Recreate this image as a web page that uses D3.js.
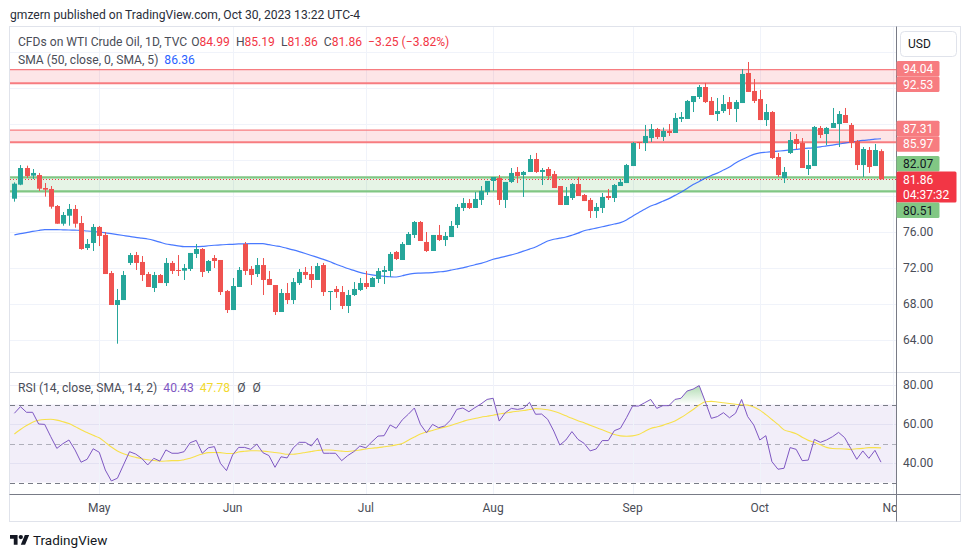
<!DOCTYPE html>
<html><head><meta charset="utf-8">
<script src="https://cdn.jsdelivr.net/npm/d3@7"></script>
<style>
html,body{margin:0;padding:0;background:#fff;}
svg{display:block;font-family:Roboto,"Noto Sans",sans-serif;}
</style></head><body>
<svg id="c" width="970" height="557"></svg>
<script>
// ---------------- DATA ----------------
const opens = [79.70,81.26,83.11,82.26,82.33,80.89,80.78,78.89,76.92,77.81,
78.56,77.00,74.22,74.78,76.56,75.67,71.44,67.89,68.44,72.56,
73.44,72.67,71.33,69.78,71.22,70.33,72.56,71.78,71.70,71.89,
73.56,74.11,71.67,73.11,72.89,69.44,67.33,69.89,74.67,71.89,
71.33,72.33,70.78,70.11,67.11,69.22,68.44,70.33,71.56,71.33,
70.67,72.33,69.33,69.67,69.33,67.78,69.00,69.56,70.33,69.89,
70.78,71.56,71.67,73.78,72.89,74.56,75.67,77.11,74.89,73.89,
75.67,75.11,75.44,76.78,78.67,79.22,78.67,79.56,80.44,81.67,
82.00,79.56,81.56,82.67,82.33,82.67,84.11,82.67,83.00,82.44,
81.11,79.00,79.78,81.33,80.11,79.56,78.33,78.67,80.00,79.78,
81.11,81.44,83.33,86.00,85.89,86.44,87.44,86.56,87.22,87.00,
88.56,88.56,90.44,91.00,92.11,90.56,89.11,89.44,90.44,89.67,
90.33,93.67,91.67,90.78,88.44,89.33,84.33,82.00,84.78,86.33,
85.89,83.00,83.33,87.56,86.89,87.56,88.00,89.00,87.89,86.11,
83.44,85.11,83.33,84.99];
const highs = [81.52,83.44,83.37,83.00,82.56,81.44,81.11,79.00,78.22,79.11,
79.00,77.78,75.22,76.89,76.67,76.00,71.67,69.67,71.67,73.67,
73.78,73.33,71.56,71.56,71.33,73.11,72.78,73.44,72.44,73.67,
74.67,74.22,72.89,73.44,72.89,69.56,70.89,72.11,74.89,72.22,
73.11,73.11,71.67,70.11,69.67,70.33,70.89,71.89,72.11,72.22,
72.56,72.56,69.44,70.00,70.00,69.56,70.44,70.89,71.67,71.00,
72.00,72.22,73.78,73.89,74.89,76.00,77.22,77.22,76.00,75.67,
76.78,76.00,77.22,79.11,79.78,79.67,80.44,81.11,81.67,82.11,
82.33,81.56,83.11,83.22,82.78,84.56,84.78,83.11,83.22,82.78,
81.11,81.00,81.44,82.11,80.22,79.78,79.22,80.33,80.78,81.33,
81.89,83.56,86.00,86.00,87.89,88.00,87.56,87.60,88.00,89.22,
89.33,90.67,91.11,92.33,92.56,91.00,90.89,91.22,91.00,90.67,
94.11,94.89,93.00,91.78,90.22,89.44,84.78,83.22,87.11,86.89,
86.44,85.11,87.78,87.78,87.67,89.78,89.44,89.78,88.11,86.22,
85.44,85.44,85.78,85.19];
const lows = [79.37,81.20,82.00,81.89,80.56,79.93,78.59,76.92,76.70,76.70,
76.48,74.03,74.00,73.89,74.44,71.33,67.89,63.59,68.44,72.33,
71.78,70.56,69.89,69.33,70.33,70.00,71.33,71.11,70.67,71.67,
73.11,71.00,71.44,72.00,69.00,67.00,67.33,69.89,71.22,70.11,
71.00,69.00,70.11,66.78,67.11,68.00,68.00,70.11,70.78,69.78,
70.67,68.89,67.33,68.67,67.44,67.00,68.89,69.44,69.67,69.89,
70.33,70.22,71.00,72.89,72.89,74.56,75.33,75.00,73.78,73.89,
75.00,74.44,75.44,76.44,78.33,78.56,78.67,79.00,80.11,80.56,
79.00,78.67,81.44,81.44,79.89,82.67,82.56,81.22,81.78,80.89,
79.00,79.00,79.56,80.00,79.44,77.56,77.56,78.11,79.56,79.33,
81.11,81.44,83.33,85.22,85.00,86.00,86.33,86.11,86.67,87.00,
88.22,88.56,89.33,90.78,90.33,89.00,88.33,89.22,89.00,88.22,
90.33,91.56,90.33,88.44,87.78,84.11,82.11,81.44,84.67,85.22,
83.11,82.33,83.33,86.44,85.67,87.56,85.44,88.11,85.33,82.89,
82.11,82.56,83.33,81.86];
const closes = [81.37,83.11,82.22,82.56,80.81,80.70,78.81,76.92,77.89,78.56,
76.92,74.11,74.67,76.56,75.56,71.33,67.89,68.44,71.22,73.44,
72.56,71.22,69.89,71.22,70.33,72.56,71.67,71.70,72.00,73.67,
74.11,71.56,72.78,72.78,69.33,67.33,70.00,71.78,71.67,71.22,
72.33,70.67,70.11,67.11,69.22,68.44,70.44,71.56,71.22,70.67,
72.22,69.33,69.44,69.33,67.78,69.00,69.67,70.33,69.89,70.89,
71.67,71.78,73.56,73.00,74.67,75.78,77.11,75.00,73.89,75.67,
75.11,75.56,76.67,78.78,79.22,78.67,79.67,80.56,81.67,82.11,
79.56,81.56,82.56,82.22,82.67,84.11,82.67,82.89,82.22,80.89,
79.00,80.00,81.33,80.00,79.44,78.33,78.78,79.89,79.78,81.22,
81.56,83.44,85.89,85.89,86.67,87.44,86.56,87.22,87.00,88.67,
88.78,90.56,91.11,92.11,90.44,89.00,89.44,90.22,89.67,90.44,
93.56,91.56,90.56,88.44,89.33,84.22,82.33,82.67,86.22,85.78,
83.11,83.44,87.67,86.78,87.56,88.11,89.11,88.11,85.89,83.44,
85.22,83.22,85.11,81.86];
const sma50 = [75.69,75.81,75.93,76.06,76.17,76.26,76.26,76.26,76.24,76.22,
76.20,76.18,76.11,76.06,76.00,75.91,75.81,75.71,75.61,75.51,
75.40,75.31,75.22,75.07,74.87,74.67,74.56,74.46,74.37,74.37,
74.37,74.40,74.47,74.53,74.58,74.61,74.63,74.67,74.69,74.70,
74.70,74.70,74.59,74.47,74.36,74.18,74.01,73.82,73.61,73.39,
73.18,72.96,72.72,72.44,72.19,71.94,71.73,71.52,71.36,71.24,
71.14,71.08,71.03,71.00,71.14,71.30,71.41,71.43,71.46,71.49,
71.56,71.63,71.76,71.89,72.02,72.19,72.36,72.51,72.72,72.97,
73.12,73.29,73.46,73.64,73.87,74.10,74.34,74.67,75.00,75.19,
75.31,75.44,75.64,75.87,76.14,76.29,76.43,76.58,76.73,76.89,
77.04,77.33,77.76,78.14,78.53,78.89,79.13,79.42,79.71,80.07,
80.42,80.83,81.27,81.62,81.97,82.28,82.54,82.88,83.23,83.66,
84.02,84.34,84.63,84.79,84.86,84.92,84.98,85.04,85.11,85.18,
85.26,85.31,85.38,85.46,85.56,85.66,85.77,85.88,85.98,86.08,
86.17,86.24,86.31,86.36];
const rsi = [65.5,68.9,66.0,66.0,60.0,59.8,53.5,47.5,49.9,51.8,
46.7,40.4,41.9,47.3,45.5,36.4,30.8,32.2,39.0,45.8,
44.6,42.4,39.0,42.4,41.0,46.7,45.0,45.0,45.8,50.4,
51.6,45.0,47.8,48.4,39.8,36.1,44.1,48.0,48.0,47.0,
49.7,45.3,43.8,37.8,43.2,42.6,47.7,50.6,50.6,48.7,
52.7,45.0,45.0,45.0,41.2,43.8,45.8,48.7,47.8,50.9,
53.8,54.0,59.5,57.8,62.1,65.0,68.2,59.8,55.5,59.8,
58.1,59.0,62.1,67.5,68.2,66.3,68.4,70.3,72.6,73.2,
61.5,65.8,68.0,67.5,68.0,71.1,65.0,65.1,62.4,56.4,
49.2,51.8,56.1,52.1,50.1,46.2,47.2,51.5,51.5,56.6,
57.8,63.2,69.2,69.2,70.9,72.6,68.0,69.4,69.4,72.6,
73.2,76.9,77.9,79.7,71.5,62.9,63.8,65.8,63.2,65.5,
72.6,63.8,59.5,51.8,54.0,40.7,36.8,37.3,47.9,47.0,
41.2,41.5,52.1,50.6,51.8,53.5,55.7,53.0,47.5,41.9,
46.2,42.4,46.5,40.43];
const rsiMa = [54.9,57.2,59.2,60.9,61.9,62.3,62.4,62.0,61.2,60.2,
58.7,57.0,55.6,54.2,52.9,50.6,48.2,46.2,44.7,43.7,
42.9,42.2,41.7,41.3,40.9,41.0,41.2,41.2,41.7,42.4,
43.6,44.6,45.3,45.4,45.3,44.9,44.9,45.6,46.0,46.3,
46.3,46.1,45.8,45.4,45.0,44.5,44.5,44.9,45.4,45.9,
46.4,46.7,46.7,46.4,46.1,45.9,46.2,46.7,47.2,47.6,
47.9,48.3,48.7,49.3,50.0,51.7,53.3,54.9,55.9,56.7,
57.6,58.4,59.2,60.3,61.3,62.2,62.8,63.5,64.0,64.5,
65.1,65.6,66.1,66.5,66.9,67.4,67.9,67.7,67.3,66.5,
65.5,64.2,62.9,61.7,60.6,59.4,58.2,57.0,55.8,54.6,
53.9,53.7,53.9,54.6,56.2,57.7,58.5,59.3,60.4,61.6,
63.3,65.3,67.4,69.7,71.4,71.6,71.3,70.9,70.5,70.1,
69.9,69.7,68.7,67.1,64.8,62.3,59.8,57.0,56.0,55.0,
53.2,51.6,50.6,49.3,48.0,47.4,47.3,47.2,47.0,47.3,
47.5,47.9,47.9,47.78];
const monthLabels = ["May","Jun","Jul","Aug","Sep","Oct","Nov"];
const monthIndex = [14,36,58,79,102,123,145];
const priceTickLabels = [76,72,68,64];
const priceGridLevels = [64,68,72,76,80,84,88,92,96];
const rsiTickLabels = [80,60,40];
const rsiLevels = [70,50,30];
const resistanceZones = [[94.04,92.53],[87.31,85.97]];
const supportZones = [[82.07,80.51]];
const countdown = "04:37:32";
const publishText = "gmzern published on TradingView.com, Oct 30, 2023 13:22 UTC-4";
const symbolTitle = "CFDs on WTI Crude Oil, 1D, TVC";
const smaTitle = "SMA (50, close, 0, SMA, 5)";
const rsiTitle = "RSI (14, close, SMA, 14, 2)";

// ---------------- LAYOUT ----------------
const svg = d3.select("#c");
const L = 10, R = 896, FR = 960.5, T = 27, MB = 372.5, RB = 494, TB = 521.5;
const UP = "#26a69a", DN = "#ef5350";
const TXT = "#4a4d57";
const FS = 12.1;
const n = closes.length;
const x = d3.scaleLinear().domain([0, n - 1]).range([14.4, 881]);
const y = d3.scaleLinear().domain([64, 76]).range([340, 232]);
const yr = d3.scaleLinear().domain([40, 80]).range([463, 385]);

const defs = svg.append("defs");
defs.append("clipPath").attr("id","mainClip").append("rect").attr("x",L).attr("y",T).attr("width",R-L).attr("height",MB-T);
defs.append("clipPath").attr("id","rsiClip").append("rect").attr("x",L).attr("y",MB).attr("width",R-L).attr("height",RB-MB);
defs.append("clipPath").attr("id","obClip").append("rect").attr("x",L).attr("y",MB).attr("width",R-L).attr("height",yr(70)-MB);
defs.append("clipPath").attr("id","timeClip").append("rect").attr("x",L).attr("y",RB).attr("width",R-L).attr("height",TB-RB);
const grad = defs.append("linearGradient").attr("id","obGrad").attr("gradientUnits","userSpaceOnUse")
  .attr("x1",0).attr("x2",0).attr("y1",yr(80)).attr("y2",yr(70));
grad.append("stop").attr("offset",0).attr("stop-color","#4caf50").attr("stop-opacity",0.45);
grad.append("stop").attr("offset",1).attr("stop-color","#4caf50").attr("stop-opacity",0);

// publish line
svg.append("text").attr("x",10).attr("y",19).attr("font-size",FS).attr("fill","#2a2e39").text(publishText);

// frame
svg.append("rect").attr("x",9.5).attr("y",26.5).attr("width",FR-9.5).attr("height",TB-26.5)
  .attr("fill","#fff").attr("stroke","#e0e3eb");

// ---------------- MAIN PANE ----------------
const main = svg.append("g").attr("clip-path","url(#mainClip)");
main.selectAll("line.hg").data(priceGridLevels).join("line")
  .attr("x1",L).attr("x2",R).attr("y1",d=>Math.round(y(d))+0.5).attr("y2",d=>Math.round(y(d))+0.5)
  .attr("stroke","#f0f3fa");
main.selectAll("line.vg").data(monthIndex).join("line")
  .attr("x1",d=>Math.round(x(d))+0.5).attr("x2",d=>Math.round(x(d))+0.5).attr("y1",T).attr("y2",MB)
  .attr("stroke","#f0f3fa");

function zone(g, z, fill, line, topW, botW){
  g.append("rect").attr("x",L).attr("width",R-L).attr("y",y(z[0])).attr("height",y(z[1])-y(z[0])).attr("fill",fill);
  g.append("line").attr("x1",L).attr("x2",R).attr("y1",y(z[0])).attr("y2",y(z[0])).attr("stroke",line).attr("stroke-width",topW);
  g.append("line").attr("x1",L).attr("x2",R).attr("y1",y(z[1])).attr("y2",y(z[1])).attr("stroke",line).attr("stroke-width",botW);
}
resistanceZones.forEach(z=>zone(main,z,"rgba(242,54,69,0.13)","#f77c80",1.3,2.2));
supportZones.forEach(z=>zone(main,z,"rgba(76,175,80,0.14)","#81c784",2.2,2.2));

const last = closes[n-1];
main.append("line").attr("x1",L).attr("x2",R).attr("y1",Math.round(y(last))+0.5).attr("y2",Math.round(y(last))+0.5)
  .attr("stroke","#f23645").attr("stroke-dasharray","1,2");

main.append("path").datum(sma50)
  .attr("d", d3.line().x((d,i)=>x(i)).y(d=>y(d)).curve(d3.curveMonotoneX))
  .attr("fill","none").attr("stroke","#2962ff").attr("stroke-width",1.2).attr("stroke-opacity",0.85);

const idx = d3.range(n);
const bw = 5;
const cg = main.append("g");
cg.selectAll("line").data(idx).join("line")
  .attr("x1",i=>Math.round(x(i))+0.5).attr("x2",i=>Math.round(x(i))+0.5)
  .attr("y1",i=>y(highs[i])).attr("y2",i=>y(lows[i]))
  .attr("stroke",i=>closes[i]>=opens[i]?UP:DN).attr("stroke-width",1);
cg.selectAll("rect").data(idx).join("rect")
  .attr("x",i=>Math.round(x(i))+0.5-bw/2).attr("width",bw)
  .attr("y",i=>y(Math.max(opens[i],closes[i])))
  .attr("height",i=>Math.max(1,Math.abs(y(opens[i])-y(closes[i]))))
  .attr("fill",i=>closes[i]>=opens[i]?UP:DN);

// legend
const f2 = v=>v.toFixed(2);
const sgn = v=>(v<0?"\u2212":"+")+Math.abs(v).toFixed(2);
const chg = closes[n-1]-closes[n-2];
const pct = chg/closes[n-2]*100;
const legColor = chg<0?"#f23645":UP;
const leg1 = svg.append("text").attr("x",18).attr("y",46).attr("font-size",FS).attr("fill",TXT);
leg1.append("tspan").text(symbolTitle);
[["O",opens[n-1]],["H",highs[n-1]],["L",lows[n-1]],["C",closes[n-1]]].forEach(([k,v],j)=>{
  leg1.append("tspan").attr("dx",j===0?4:6).text(k);
  leg1.append("tspan").attr("fill",legColor).text(f2(v));
});
leg1.append("tspan").attr("dx",6).attr("fill",legColor).text(`${sgn(chg)} (${sgn(pct)}%)`);
const leg2 = svg.append("text").attr("x",18).attr("y",64).attr("font-size",FS).attr("fill",TXT);
leg2.append("tspan").text(smaTitle);
leg2.append("tspan").attr("dx",6).attr("fill","#2962ff").text(f2(sma50[n-1]));

// ---------------- RSI PANE ----------------
svg.append("line").attr("x1",9.5).attr("x2",FR).attr("y1",MB).attr("y2",MB).attr("stroke","#e0e3eb");
const rg = svg.append("g").attr("clip-path","url(#rsiClip)");
rg.append("rect").attr("x",L).attr("width",R-L).attr("y",yr(70)).attr("height",yr(30)-yr(70)).attr("fill","rgba(126,87,194,0.1)");
rg.selectAll("line.hg").data(rsiTickLabels).join("line")
  .attr("x1",L).attr("x2",R).attr("y1",d=>Math.round(yr(d))+0.5).attr("y2",d=>Math.round(yr(d))+0.5)
  .attr("stroke","rgba(200,200,230,0.35)");
rg.selectAll("line.vg").data(monthIndex).join("line")
  .attr("x1",d=>Math.round(x(d))+0.5).attr("x2",d=>Math.round(x(d))+0.5).attr("y1",MB).attr("y2",RB)
  .attr("stroke","#f0f3fa");
rg.selectAll("line.lv").data(rsiLevels).join("line")
  .attr("x1",L).attr("x2",R).attr("y1",d=>Math.round(yr(d))+0.5).attr("y2",d=>Math.round(yr(d))+0.5)
  .attr("stroke",d=>d===50?"rgba(120,123,134,0.55)":"#787b86").attr("stroke-dasharray","5,4");
rg.append("path").datum(rsi)
  .attr("d", d3.area().x((d,i)=>x(i)).y0(yr(70)).y1(d=>yr(d)))
  .attr("fill","url(#obGrad)").attr("clip-path","url(#obClip)");
rg.append("path").datum(rsiMa)
  .attr("d", d3.line().x((d,i)=>x(i)).y(d=>yr(d)).curve(d3.curveMonotoneX))
  .attr("fill","none").attr("stroke","#f7e04b").attr("stroke-width",1.1);
rg.append("path").datum(rsi)
  .attr("d", d3.line().x((d,i)=>x(i)).y(d=>yr(d)))
  .attr("fill","none").attr("stroke","#7e57c2").attr("stroke-width",1);

const leg3 = svg.append("text").attr("x",18).attr("y",392).attr("font-size",FS).attr("fill",TXT);
leg3.append("tspan").text(rsiTitle);
leg3.append("tspan").attr("dx",6).attr("fill","#7e57c2").text(f2(rsi[n-1]));
leg3.append("tspan").attr("dx",6).attr("fill","#f2d92e").text(f2(rsiMa[n-1]));
leg3.append("tspan").attr("dx",7).text("\u00d8");
leg3.append("tspan").attr("dx",7).text("\u00d8");

// ---------------- AXES ----------------
svg.append("line").attr("x1",9.5).attr("x2",FR).attr("y1",RB+0.5).attr("y2",RB+0.5).attr("stroke","#787b86");
svg.append("line").attr("x1",R+0.5).attr("x2",R+0.5).attr("y1",26.5).attr("y2",TB).attr("stroke","#787b86");

const tg = svg.append("g").attr("clip-path","url(#timeClip)");
tg.selectAll("text").data(monthIndex).join("text")
  .attr("x",d=>x(d)).attr("y",512).attr("text-anchor","middle").attr("font-size",12).attr("fill",TXT)
  .text((d,i)=>monthLabels[i]);

svg.selectAll("text.pt").data(priceTickLabels).join("text").attr("class","pt")
  .attr("x",903).attr("y",d=>y(d)).attr("dy","0.36em").attr("font-size",12).attr("fill",TXT).text(d=>d.toFixed(2));
svg.selectAll("text.rt").data(rsiTickLabels).join("text").attr("class","rt")
  .attr("x",903).attr("y",d=>yr(d)).attr("dy","0.36em").attr("font-size",12).attr("fill",TXT).text(d=>d.toFixed(2));

// USD button
svg.append("rect").attr("x",900.5).attr("y",31.5).attr("width",56).attr("height",25).attr("rx",4)
  .attr("fill","#fff").attr("stroke","#e0e3eb");
svg.append("text").attr("x",908).attr("y",44).attr("dy","0.36em").attr("font-size",12).attr("fill","#131722").text("USD");

// price labels with simple collision resolution
const H1 = 15.5;
const labels = [];
resistanceZones.forEach(z=>z.forEach(p=>labels.push({p, bg:"#f77c80", fg:"#fff", lines:[f2(p)], w:43, h:H1})));
supportZones.forEach(z=>z.forEach(p=>labels.push({p, bg:"#81c784", fg:"#131722", lines:[f2(p)], w:43, h:H1})));
labels.push({p:last, bg:"#f23645", fg:"#fff", lines:[f2(last), countdown], w:60, h:31, fixed:true});
labels.forEach(l=>l.top = y(l.p) - H1/2);
labels.sort((a,b)=>a.top-b.top);
for (let it=0; it<100; it++){
  for (let k=0; k<labels.length-1; k++){
    const a=labels[k], b=labels[k+1];
    const ov = a.top + a.h - b.top;
    if (ov>0){
      if (a.fixed) b.top += ov;
      else if (b.fixed) a.top -= ov;
      else { a.top -= ov/2; b.top += ov/2; }
    }
  }
}
const lg = svg.append("g");
labels.forEach(l=>{
  lg.append("rect").attr("x",R+0.5).attr("y",l.top).attr("width",l.w).attr("height",l.h).attr("rx",1.5).attr("fill",l.bg);
  l.lines.forEach((t,j)=>{
    lg.append("text").attr("x",903).attr("y",l.top+H1/2+j*15).attr("dy","0.36em")
      .attr("font-size",12).attr("fill",l.fg).text(t);
  });
});

// ---------------- FOOTER ----------------
const logo = svg.append("g").attr("transform","translate(10,532.8) scale(0.54)").attr("fill","#131722");
logo.append("path").attr("d","M14 22H7V11H0V4h14v18zM28 22h-8l7.5-18h8L28 22z");
logo.append("circle").attr("cx",20).attr("cy",8).attr("r",4);
svg.append("text").attr("x",33).attr("y",545).attr("font-size",13.5).attr("fill","#131722").text("TradingView");
</script>
</body></html>
